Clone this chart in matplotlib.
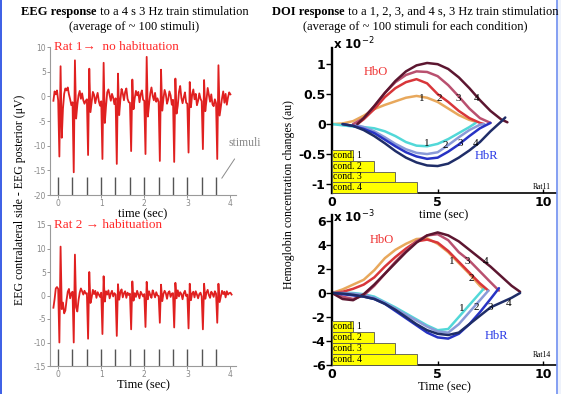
import numpy as np
import matplotlib
matplotlib.use("Agg")
import matplotlib.pyplot as plt
from matplotlib.lines import Line2D
from matplotlib.patches import Rectangle

plt.rcParams["axes.unicode_minus"] = False

W, H = 561, 394
SERIF = "Liberation Serif"

# ---------------- EEG data (uV), 12 samples per stimulus interval (1/36 s) ----------------
stim_t = [0.0, 0.33, 0.67, 1.0, 1.33, 1.67, 2.0, 2.33, 2.67, 3.0, 3.33, 3.67]

eeg_rat1_pre = [-0.9, 1.0, 0.4, 1.2]
eeg_rat1_blocks = [
    [-0.8, -12.2, 6.1, -8.4, -2.5, 0.5, 1.6, 1.2, 1.8, 0.4, -0.6, -1.8],
    [-1.2, -15.4, 7.3, -4.5, -1.8, 0.2, 1.1, -0.5, 0.6, -0.8, -1.5, -0.9],
    [-0.6, -11.9, 5.6, -3.2, -1.1, 0.9, 0.3, -1.4, -0.2, 0.7, -1.0, -1.9],
    [-1.0, -12.7, 6.8, -5.4, -2.0, 0.8, 1.4, 0.2, -0.9, 0.5, -0.3, -1.6],
    [-0.4, -13.7, 4.6, -3.8, -0.7, 1.5, 0.6, -0.8, 0.9, 1.6, -0.5, -1.2],
    [-1.3, -11.1, 3.4, -2.6, -0.4, 1.1, 0.2, 0.9, -1.2, 0.4, 1.2, -0.7],
    [-0.9, -11.7, 8.0, -4.1, -1.6, 0.6, 1.8, 0.1, -0.8, 0.7, -1.1, -0.4],
    [-1.1, -13.1, 5.4, -2.9, -0.5, 1.3, 0.4, -1.5, -0.6, 1.0, 0.2, -1.7],
    [-0.7, -13.3, 3.6, -3.5, -1.9, 0.9, 2.1, -0.3, -1.4, -0.2, 0.8, -1.3],
    [-1.5, -11.4, 2.9, -2.2, 0.3, 1.4, -0.6, 0.5, -1.8, -0.9, 0.6, -0.5],
    [-1.0, -10.7, 3.3, -3.0, -0.8, 1.7, 0.3, -1.1, 0.4, -1.6, -2.0, -0.6],
    [-1.4, -12.7, 6.3, -3.9, -2.2, -0.4, 1.0, -1.3, 0.5, -1.7, -0.2, 0.8],
]
eeg_rat1_post = [0.4]

eeg_rat2_pre = [-2.6, -0.8, 1.5, 1.8]
eeg_rat2_blocks = [
    [1.4, -10.0, 10.4, -2.9, -1.5, -3.8, -3.2, -1.0, 0.8, 1.4, -0.6, 0.5],
    [0.8, -10.0, 8.7, -2.5, -3.4, -1.0, 0.6, 1.5, 0.9, 0.2, 1.0, 0.4],
    [0.5, -9.2, 5.0, -1.6, -0.4, 1.2, 0.3, 1.0, -0.5, 0.7, 0.2, -0.3],
    [0.6, -8.2, 4.1, -1.3, 0.9, 0.2, 1.1, -0.6, 0.4, 1.0, -0.2, 0.5],
    [0.2, -8.6, 2.4, -0.9, 0.7, 1.3, -0.4, 0.5, 0.9, -0.5, 0.6, 0.1],
    [0.4, -7.2, 3.0, -1.1, 0.5, -0.3, 1.0, 0.2, -0.6, 0.8, 0.3, -0.2],
    [0.3, -6.7, 2.9, -0.8, 0.9, 0.1, -0.5, 1.1, 0.4, -0.4, 0.7, 0.0],
    [-0.1, -5.8, 2.3, -1.2, 0.3, 1.0, 0.5, -0.7, 0.6, 0.9, -0.3, 0.4],
    [0.5, -6.8, 2.7, -0.6, 1.1, -0.2, 0.7, 0.3, -0.8, 0.5, 1.0, -0.1],
    [0.2, -7.0, 2.5, -1.0, 0.4, 0.8, -0.4, 0.9, 0.2, -0.6, 0.3, 0.6],
    [-0.2, -7.2, 2.5, -0.7, 0.6, 1.2, 0.1, -0.5, 0.8, 0.4, -0.3, 0.9],
    [0.4, -5.8, 2.5, -1.4, -0.2, 1.0, 0.3, 0.8, -0.4, 0.9, 0.2, 0.5],
]
eeg_rat2_post = [0.6, 0.2]

# ---------------- DOI data ----------------
# Rat11 (x 10^-2)
r11_hbo_t = [
    [0, 0.5, 1, 1.5, 2, 2.5, 3, 3.5, 4, 4.5, 5, 5.5, 6, 6.5, 6.8],
    [1.2, 1.5, 2, 2.5, 3, 3.5, 4, 4.5, 5, 5.5, 6, 6.5, 7, 7.2],
    [1.0, 1.5, 2, 2.5, 3, 3.5, 4, 4.5, 5, 5.5, 6, 6.5, 7, 7.5],
    [1.2, 1.5, 2, 2.5, 3, 3.5, 4, 4.5, 5, 5.5, 6, 6.5, 7, 7.5, 8, 8.3],
]
r11_hbo_v = [
    [0, 0.01, 0.05, 0.14, 0.25, 0.32, 0.38, 0.44, 0.47, 0.44, 0.37, 0.26, 0.15, 0.07, 0.04],
    [0.0, 0.08, 0.25, 0.45, 0.6, 0.7, 0.75, 0.68, 0.5, 0.37, 0.22, 0.1, 0.02, 0.0],
    [0.0, 0.1, 0.3, 0.52, 0.7, 0.82, 0.88, 0.87, 0.8, 0.65, 0.46, 0.26, 0.1, 0.02],
    [0.0, 0.1, 0.3, 0.52, 0.72, 0.88, 0.98, 1.02, 1.0, 0.92, 0.78, 0.6, 0.4, 0.22, 0.08, 0.03],
]
r11_hbr_t = [
    [0, 0.5, 1, 1.5, 2, 2.5, 3, 3.5, 4, 4.5, 5, 5.5, 6, 6.5, 6.8],
    [1.0, 1.5, 2, 2.5, 3, 3.5, 4, 4.5, 5, 5.5, 6, 6.5, 7, 7.2],
    [0.5, 1, 1.5, 2, 2.5, 3, 3.5, 4, 4.5, 5, 5.5, 6, 6.5, 7, 7.5],
    [0.5, 1, 1.5, 2, 2.5, 3, 3.5, 4, 4.5, 5, 5.5, 6, 6.5, 7, 7.5, 8, 8.2],
]
r11_hbr_v = [
    [0, -0.02, -0.04, -0.05, -0.07, -0.12, -0.2, -0.3, -0.36, -0.37, -0.33, -0.25, -0.15, -0.05, 0.02],
    [0, -0.05, -0.12, -0.22, -0.33, -0.42, -0.48, -0.5, -0.47, -0.35, -0.22, -0.1, -0.01, 0.0],
    [0, -0.03, -0.08, -0.15, -0.26, -0.37, -0.47, -0.54, -0.58, -0.56, -0.46, -0.34, -0.2, -0.07, 0.02],
    [0, -0.03, -0.1, -0.2, -0.32, -0.45, -0.56, -0.64, -0.69, -0.7, -0.66, -0.56, -0.44, -0.3, -0.12, 0.04, 0.11],
]

# Rat14 (x 10^-3)
r14_hbo_t = [
    [0, 0.5, 1, 1.5, 2, 2.5, 3, 3.5, 4, 4.5, 5, 5.5, 6, 6.5, 7, 7.2],
    [0, 0.5, 1, 1.5, 2, 2.5, 3, 3.5, 4, 4.5, 5, 5.5, 6, 6.5, 7, 7.4],
    [0, 0.5, 1, 1.5, 2, 2.5, 3, 3.5, 4, 4.5, 5, 5.5, 6, 6.5, 7, 7.5, 7.9],
    [0, 0.5, 1, 1.5, 2, 2.5, 3, 3.5, 4, 4.5, 5, 5.5, 6, 6.5, 7, 7.5, 8, 8.5, 8.9],
]
r14_hbo_v = [
    [0, 0.3, 0.7, 1.1, 1.9, 2.9, 3.6, 4.1, 4.5, 4.55, 4.1, 3.4, 2.5, 1.6, 0.6, 0.3],
    [0, 0.1, 0.35, 0.7, 1.3, 2.2, 3.0, 3.7, 4.3, 4.45, 4.2, 3.5, 2.6, 1.7, 0.8, 0.2],
    [0, -0.3, -0.5, -0.2, 0.6, 1.6, 2.6, 3.5, 4.3, 4.8, 4.9, 4.4, 3.4, 2.7, 1.8, 0.9, 0.2],
    [0, -0.5, -0.6, -0.1, 0.7, 1.6, 2.5, 3.4, 4.2, 4.8, 5.05, 4.8, 4.3, 3.6, 2.9, 2.2, 1.4, 0.6, 0.1],
]
r14_hbr_t = [
    [0, 0.5, 1, 1.5, 2, 2.5, 3, 3.5, 4, 4.5, 5, 5.5, 6, 6.5, 7, 7.2],
    [0, 0.5, 1, 1.5, 2, 2.5, 3, 3.5, 4, 4.5, 5, 5.5, 6, 6.5, 7, 7.4],
    [0, 0.5, 1, 1.5, 2, 2.5, 3, 3.5, 4, 4.5, 5, 5.5, 6, 6.5, 7, 7.5, 7.9],
    [0, 0.5, 1, 1.5, 2, 2.5, 3, 3.5, 4, 4.5, 5, 5.5, 6, 6.5, 7, 7.5, 8, 8.5, 8.9],
]
r14_hbr_v = [
    [0, 0.05, 0, -0.1, -0.3, -0.75, -1.2, -1.7, -2.2, -2.7, -3.1, -3.0, -2.0, -1.0, 0.0, 0.4],
    [0, 0, -0.05, -0.15, -0.4, -0.8, -1.3, -1.8, -2.3, -2.8, -3.2, -3.3, -2.6, -1.6, -0.6, 0.2],
    [0, -0.1, -0.2, -0.3, -0.5, -0.9, -1.5, -2.1, -2.7, -3.3, -3.7, -3.8, -3.4, -2.6, -1.6, -0.5, 0.4],
    [0, -0.05, -0.15, -0.3, -0.5, -0.9, -1.4, -2.0, -2.6, -3.1, -3.4, -3.5, -3.3, -2.6, -1.9, -1.2, -0.8, -0.4, 0.0],
]

cond_dur = [1, 2, 3, 4]
cond_labels = ["cond. 1", "cond. 2", "cond. 3", "cond. 4"]
hbo_colors = ["#e8a85c", "#d8363a", "#b9506f", "#5c1630"]
hbr_colors = ["#52d8d8", "#8a9ad8", "#2733c4", "#1f2d68"]


def fpos(x0, y_top, x1, y_bot):
    return [x0 / W, 1 - y_bot / H, (x1 - x0) / W, (y_bot - y_top) / H]


fig = plt.figure(figsize=(W / 100, H / 100), dpi=100)
fig.patch.set_facecolor("white")

# ---------------- EEG panels ----------------
def eeg_panel(pos, pre, blocks, post, ylim, yticks, yticklabels, stim_lo, stim_hi,
              label, xlabel):
    ax = fig.add_axes(pos)
    ax.set_facecolor("none")
    vals = np.concatenate([pre] + blocks + [post])
    t = (np.arange(len(vals)) - len(pre)) / 36.0
    ax.plot(t, vals, color="#e02020", lw=1.3)
    ax.vlines(stim_t, stim_lo, stim_hi, color="#555555", lw=1.0)
    ax.set_xlim(-0.19, 4.13)
    ax.set_ylim(*ylim)
    ax.set_yticks(yticks)
    ax.set_yticklabels(yticklabels)
    ax.set_xticks([0, 1, 2, 3, 4])
    for s in ["top", "right"]:
        ax.spines[s].set_visible(False)
    for s in ["left", "bottom"]:
        ax.spines[s].set_color("#9a9a9a")
        ax.spines[s].set_linewidth(0.8)
    ax.tick_params(labelsize=5.5, colors="#888888", length=2, width=0.6, pad=1)
    ax.text(-0.1, ylim[1], label, color="#ff2a2a", fontsize=9.5, family=SERIF,
            va="center", ha="left")
    ax.set_xlabel(xlabel, family=SERIF, fontsize=9, labelpad=0)
    return ax


ax1 = eeg_panel(fpos(50, 47, 236, 195), eeg_rat1_pre, eeg_rat1_blocks, eeg_rat1_post,
                (-20, 10), [-20, -15, -10, -5, 0, 5, 10],
                ["-20", "-15", "-10", "-5", "0", "5", "10"], -20, -16.3,
                "Rat 1\u2192  no habituation", "time (sec)")
ax1.annotate("stimuli", xy=(3.8, -16.6), xytext=(4.34, -9.5), fontsize=8.5,
             family=SERIF, color="#8a8a8a", ha="center", va="center",
             annotation_clip=False,
             arrowprops=dict(arrowstyle="-", color="#8a8a8a", lw=0.7,
                             shrinkA=6, shrinkB=0))

ax2 = eeg_panel(fpos(50, 225, 236, 366), eeg_rat2_pre, eeg_rat2_blocks, eeg_rat2_post,
                (-15, 15), [-15, -10, -5, 0, 5, 10, 15],
                ["-15", "-10", "-5", "0", "5", "10", "15"], -15, -11.4,
                "Rat 2 \u2192 habituation", "Time (sec)")


# ---------------- DOI panels ----------------
def doi_panel(pos, ylim, yticks, yticklabels, expo, expo_y, hbo_t, hbo_v, hbr_t, hbr_v,
              hbo_txt, hbr_txt, hbo_nums, hbr_nums, rat, rat_xy, xlabel):
    ax = fig.add_axes(pos)
    ax.set_facecolor("none")
    for i in range(4):
        ax.plot(hbo_t[i], hbo_v[i], color=hbo_colors[i], lw=1.8, solid_capstyle="round")
        ax.plot(hbr_t[i], hbr_v[i], color=hbr_colors[i], lw=1.8, solid_capstyle="round")
    tr = ax.get_xaxis_transform()
    bar_h = 0.074
    centers = [3.5 * bar_h, 2.5 * bar_h, 1.5 * bar_h, 0.5 * bar_h]
    ax.barh(centers, cond_dur, height=bar_h, left=0, color="#ffff00",
            edgecolor="#555555", linewidth=0.6, transform=tr, zorder=3, clip_on=False)
    for c, lab in zip(centers, cond_labels):
        ax.text(0.05, c, lab, transform=tr, fontsize=7, family=SERIF,
                va="center", ha="left", zorder=4)
    ax.text(*hbo_txt, "HbO", color="#ee3030", fontsize=9, family=SERIF,
            ha="center", va="center")
    ax.text(*hbr_txt, "HbR", color="#2a3ae6", fontsize=9, family=SERIF,
            ha="center", va="center")
    for k, (x, y) in enumerate(hbo_nums):
        ax.text(x, y, str(k + 1), fontsize=8, family=SERIF, ha="center", va="center")
    for k, (x, y) in enumerate(hbr_nums):
        ax.text(x, y, str(k + 1), fontsize=8, family=SERIF, ha="center", va="center")
    ax.text(rat_xy[0], rat_xy[1], rat, fontsize=5.5, family=SERIF, ha="center",
            va="bottom")
    ax.set_xlim(0, 10.6)
    ax.set_ylim(*ylim)
    ax.set_xticks([0, 5, 10])
    ax.set_yticks(yticks)
    ax.set_yticklabels(yticklabels)
    for s in ["top", "right"]:
        ax.spines[s].set_visible(False)
    ax.spines["left"].set_linewidth(1.7)
    ax.spines["bottom"].set_linewidth(1.2)
    ax.tick_params(axis="x", labelsize=9, length=3, width=1.0, direction="in", pad=2.5)
    ax.tick_params(axis="y", labelsize=9, length=4, width=1.0, direction="out", pad=0.5)
    for lb in ax.get_xticklabels() + ax.get_yticklabels():
        lb.set_fontweight("heavy")
    ax.text(0.005, expo_y, expo, transform=ax.transAxes, fontsize=8.5,
            fontweight="heavy", ha="left", va="center")
    ax.set_xlabel(xlabel, family=SERIF, fontsize=9, labelpad=0)
    return ax


ax3 = doi_panel(fpos(332, 48, 556, 193), (-1.15, 1.27), [-1, -0.5, 0, 0.5, 1],
                ["-1", "-0.5", "0", "0.5", "1"], r"x 10$^{-2}$", 1.03,
                r11_hbo_t, r11_hbo_v, r11_hbr_t, r11_hbr_v,
                (2.05, 0.87), (7.32, -0.53),
                [(4.24, 0.43), (5.07, 0.43), (5.98, 0.43), (6.85, 0.43)],
                [(4.48, -0.33), (5.35, -0.35), (6.07, -0.33), (6.78, -0.32)],
                "Rat11", (9.94, -1.12), "time (sec)")

ax4 = doi_panel(fpos(332, 215, 556, 365), (-6, 6.5), [-6, -4, -2, 0, 2, 4, 6],
                ["-6", "-4", "-2", "0", "2", "4", "6"], r"x 10$^{-3}$", 0.985,
                r14_hbo_t, r14_hbo_v, r14_hbr_t, r14_hbr_v,
                (2.35, 4.44), (7.8, -3.6),
                [(5.67, 2.6), (6.57, 1.2), (6.38, 2.6), (7.25, 2.6)],
                [(6.15, -1.28), (6.82, -1.2), (7.49, -1.2), (8.36, -0.86)],
                "Rat14", (9.94, -5.5), "Time (sec)")

# ---------------- shared labels and titles ----------------
fig.text(20 / W, 1 - 200 / H, "EEG contralateral side - EEG posterior (\u03bcV)",
         rotation=90, family=SERIF, fontsize=8.5, ha="center", va="center")
fig.text(289 / W, 1 - 195 / H, "Hemoglobin concentration changes (au)",
         rotation=90, family=SERIF, fontsize=8.5, ha="center", va="center")

renderer = fig.canvas.get_renderer()


def mixed_title(xc, y, bold, rest):
    t1 = fig.text(0, 1 - y / H, bold, family=SERIF, fontweight="bold", fontsize=9,
                  ha="left", va="center")
    t2 = fig.text(0, 1 - y / H, rest, family=SERIF, fontsize=9, ha="left", va="center")
    w1 = t1.get_window_extent(renderer).width
    w2 = t2.get_window_extent(renderer).width
    x0 = xc - (w1 + w2) / 2
    t1.set_x(x0 / W)
    t2.set_x((x0 + w1) / W)


mixed_title(135, 12, "EEG response", " to a 4 s 3 Hz train stimulation")
fig.text(134 / W, 1 - 27 / H, "(average of ~ 100 stimuli)", family=SERIF,
         fontsize=9, ha="center", va="center")
mixed_title(415, 12, "DOI response", " to a 1, 2, 3, and 4 s, 3 Hz train stimulation")
fig.text(415 / W, 1 - 27 / H, "(average of ~ 100 stimuli for each condition)",
         family=SERIF, fontsize=9, ha="center", va="center")

# slide border lines
fig.add_artist(Rectangle((557.5 / W, 0), 1 - 557.5 / W, 1, transform=fig.transFigure,
                         color="#eef2fb", zorder=0))
fig.add_artist(Line2D([1.2 / W] * 2, [0, 1], color="#3b5ee6", lw=1.4))
fig.add_artist(Line2D([557 / W] * 2, [0, 1], color="#6f8ff0", lw=1.2))

fig.savefig("out.png", dpi=100)
